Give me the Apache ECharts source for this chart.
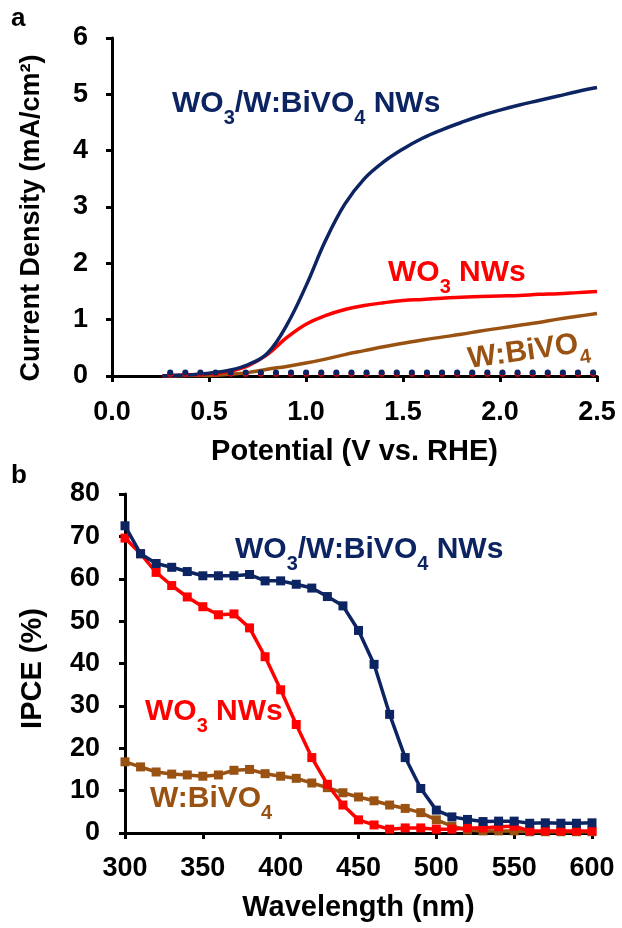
<!DOCTYPE html>
<html>
<head>
<meta charset="utf-8">
<title>PEC and IPCE</title>
<script src="https://cdn.jsdelivr.net/npm/echarts@6/dist/echarts.min.js"></script>
<style>
  html, body { margin: 0; padding: 0; background: #fff; }
  #main { width: 622px; height: 928px; }
</style>
</head>
<body>
<div id="main"></div>
<script>
// panel a: current density vs potential
var potential = [0.26, 0.3, 0.4, 0.5, 0.6, 0.7, 0.8, 0.9, 1.0, 1.1, 1.2, 1.3, 1.4, 1.5, 1.6, 1.7, 1.8, 1.9, 2.0, 2.1, 2.2, 2.3, 2.4, 2.5];
var jComposite = [0, 0.01, 0.02, 0.05, 0.1, 0.2, 0.4, 0.9, 1.6, 2.4, 3.05, 3.5, 3.8, 4.03, 4.22, 4.37, 4.5, 4.62, 4.72, 4.81, 4.89, 4.97, 5.05, 5.12];
var jWO3 = [0, 0.01, 0.02, 0.04, 0.08, 0.18, 0.38, 0.68, 0.92, 1.07, 1.18, 1.25, 1.3, 1.34, 1.36, 1.38, 1.4, 1.41, 1.42, 1.43, 1.45, 1.46, 1.48, 1.5];
var jBiVO4 = [0, 0, 0.01, 0.01, 0.03, 0.06, 0.12, 0.17, 0.23, 0.3, 0.38, 0.45, 0.52, 0.58, 0.64, 0.69, 0.74, 0.8, 0.85, 0.9, 0.95, 1.01, 1.06, 1.11];
var darkPotential = [0.3, 2.5];
var darkComposite = [0.06, 0.06];
var darkWO3 = [0.04, 0.04];

// panel b: IPCE vs wavelength
var wavelength = [300, 310, 320, 330, 340, 350, 360, 370, 380, 390, 400, 410, 420, 430, 440, 450, 460, 470, 480, 490, 500, 510, 520, 530, 540, 550, 560, 570, 580, 590, 600];
var ipceComposite = [72.5, 65.9, 63.6, 62.7, 61.7, 60.7, 60.7, 60.7, 61, 59.5, 59.5, 58.7, 57.8, 55.8, 53.6, 47.8, 39.8, 28, 17.8, 10.5, 5.4, 3.8, 3.2, 2.7, 2.8, 2.8, 2.3, 2.4, 2.3, 2.3, 2.4];
var ipceWO3 = [69.6, 65.9, 61.5, 58.4, 55.7, 53.4, 51.5, 51.7, 48.4, 41.6, 33.8, 25.6, 17.8, 11.5, 6.6, 3.1, 1.9, 0.9, 1.2, 1.2, 0.9, 0.9, 1.2, 1.2, 1.5, 1.6, 0.5, 0.5, 0.5, 0.5, 0.5];
var ipceBiVO4 = [16.8, 15.6, 14.4, 13.9, 13.7, 13.4, 13.7, 14.8, 15, 14, 13.4, 12.9, 11.8, 10.7, 9.5, 8.5, 7.6, 6.6, 5.8, 4.8, 3.1, 1.6, 0.7, 0.5, 0.5, 0.5, 0.3, 0.3, 0.3, 0.3, 0.3];

var NAVY = '#0d2462', RED = '#ff0000', BROWN = '#9a5212';
var FONT = "'Liberation Sans', Arial, sans-serif";

function pairs(xs, ys) {
  return xs.map(function (x, i) { return [x, ys[i]]; });
}

var axisLine = { lineStyle: { color: '#000', width: 3 } };
var axisTick = { length: 6, lineStyle: { color: '#000', width: 3 } };
var tickFont = { color: '#000', fontSize: 27, fontWeight: 'bold', fontFamily: FONT };
var nameFont = { color: '#000', fontSize: 29, fontWeight: 'bold', fontFamily: FONT };

var chart = echarts.init(document.getElementById('main'));

function lightLine(name, color, xs, ys) {
  return {
    name: name, type: 'line', xAxisIndex: 0, yAxisIndex: 0,
    data: pairs(xs, ys), smooth: 0.4, showSymbol: false,
    lineStyle: { color: color, width: 3.5 }, z: 3
  };
}
function darkLine(name, color, xs, ys, z) {
  return {
    name: name, type: 'line', xAxisIndex: 0, yAxisIndex: 0,
    data: pairs(xs, ys), showSymbol: false,
    lineStyle: { color: color, width: 6, type: [0.1, 15], cap: 'round' }, z: z
  };
}
function ipceLine(name, color, ys, z) {
  return {
    name: name, type: 'line', xAxisIndex: 1, yAxisIndex: 1,
    data: pairs(wavelength, ys), symbol: 'rect', symbolSize: 9,
    itemStyle: { color: color }, lineStyle: { color: color, width: 3.5 }, z: z
  };
}

function label(parts, color, x, y, rot) {
  return {
    type: 'text', x: x, y: y, rotation: rot || 0,
    style: {
      text: parts, fill: color, font: 'bold 30px ' + FONT,
      rich: { s: { fontSize: 20, fontWeight: 'bold', fontFamily: FONT, fill: color, verticalAlign: 'bottom', padding: [0, 0, -9, 0] } }
    }
  };
}

chart.setOption({
  animation: false,
  grid: [
    { left: 112, top: 38, width: 485, height: 338 },
    { left: 125, top: 494, width: 467, height: 339 }
  ],
  xAxis: [
    {
      gridIndex: 0, type: 'value', min: 0, max: 2.5, interval: 0.5,
      name: 'Potential (V vs. RHE)', nameLocation: 'middle', nameGap: 61, nameTextStyle: nameFont,
      axisLine: axisLine, axisTick: axisTick, splitLine: { show: false },
      axisLabel: Object.assign({ margin: 23, formatter: function (v) { return v.toFixed(1); } }, tickFont)
    },
    {
      gridIndex: 1, type: 'value', min: 300, max: 600, interval: 50,
      name: 'Wavelength (nm)', nameLocation: 'middle', nameGap: 60, nameTextStyle: nameFont,
      axisLine: axisLine, axisTick: axisTick, splitLine: { show: false },
      axisLabel: Object.assign({ margin: 22 }, tickFont)
    }
  ],
  yAxis: [
    {
      gridIndex: 0, type: 'value', min: 0, max: 6, interval: 1,
      name: 'Current Density (mA/cm²)', nameLocation: 'middle', nameGap: 67,
      nameTextStyle: Object.assign({}, nameFont, { fontSize: 27, padding: [0, 22, 0, 0] }),
      axisLine: axisLine, axisTick: axisTick, splitLine: { show: false },
      axisLabel: Object.assign({ margin: 24 }, tickFont)
    },
    {
      gridIndex: 1, type: 'value', min: 0, max: 80, interval: 10,
      name: 'IPCE (%)', nameLocation: 'middle', nameGap: 78,
      nameTextStyle: Object.assign({}, nameFont, { padding: [0, 10, 0, 0] }),
      axisLine: axisLine, axisTick: axisTick, splitLine: { show: false },
      axisLabel: Object.assign({ margin: 25 }, tickFont)
    }
  ],
  series: [
    lightLine('W:BiVO4', BROWN, potential, jBiVO4),
    lightLine('WO3 NWs', RED, potential, jWO3),
    lightLine('WO3/W:BiVO4 NWs', NAVY, potential, jComposite),
    darkLine('WO3 dark', RED, darkPotential, darkWO3, 4),
    darkLine('WO3/W:BiVO4 dark', NAVY, darkPotential, darkComposite, 5),
    ipceLine('W:BiVO4', BROWN, ipceBiVO4, 3),
    ipceLine('WO3 NWs', RED, ipceWO3, 4),
    ipceLine('WO3/W:BiVO4 NWs', NAVY, ipceComposite, 5)
  ],
  graphic: [
    { type: 'text', x: 11, y: 6, style: { text: 'a', fill: '#000', font: 'bold 26px ' + FONT } },
    { type: 'text', x: 11, y: 463, style: { text: 'b', fill: '#000', font: 'bold 26px ' + FONT } },
    label('WO{s|3}/W:BiVO{s|4} NWs', NAVY, 172, 89),
    label('WO{s|3} NWs', RED, 388, 258),
    label('W:BiVO{s|4}', BROWN, 466, 345, 0.14),
    label('WO{s|3}/W:BiVO{s|4} NWs', NAVY, 235, 535),
    label('WO{s|3} NWs', RED, 145, 697),
    label('W:BiVO{s|4}', BROWN, 150, 784)
  ]
});
</script>
</body>
</html>
